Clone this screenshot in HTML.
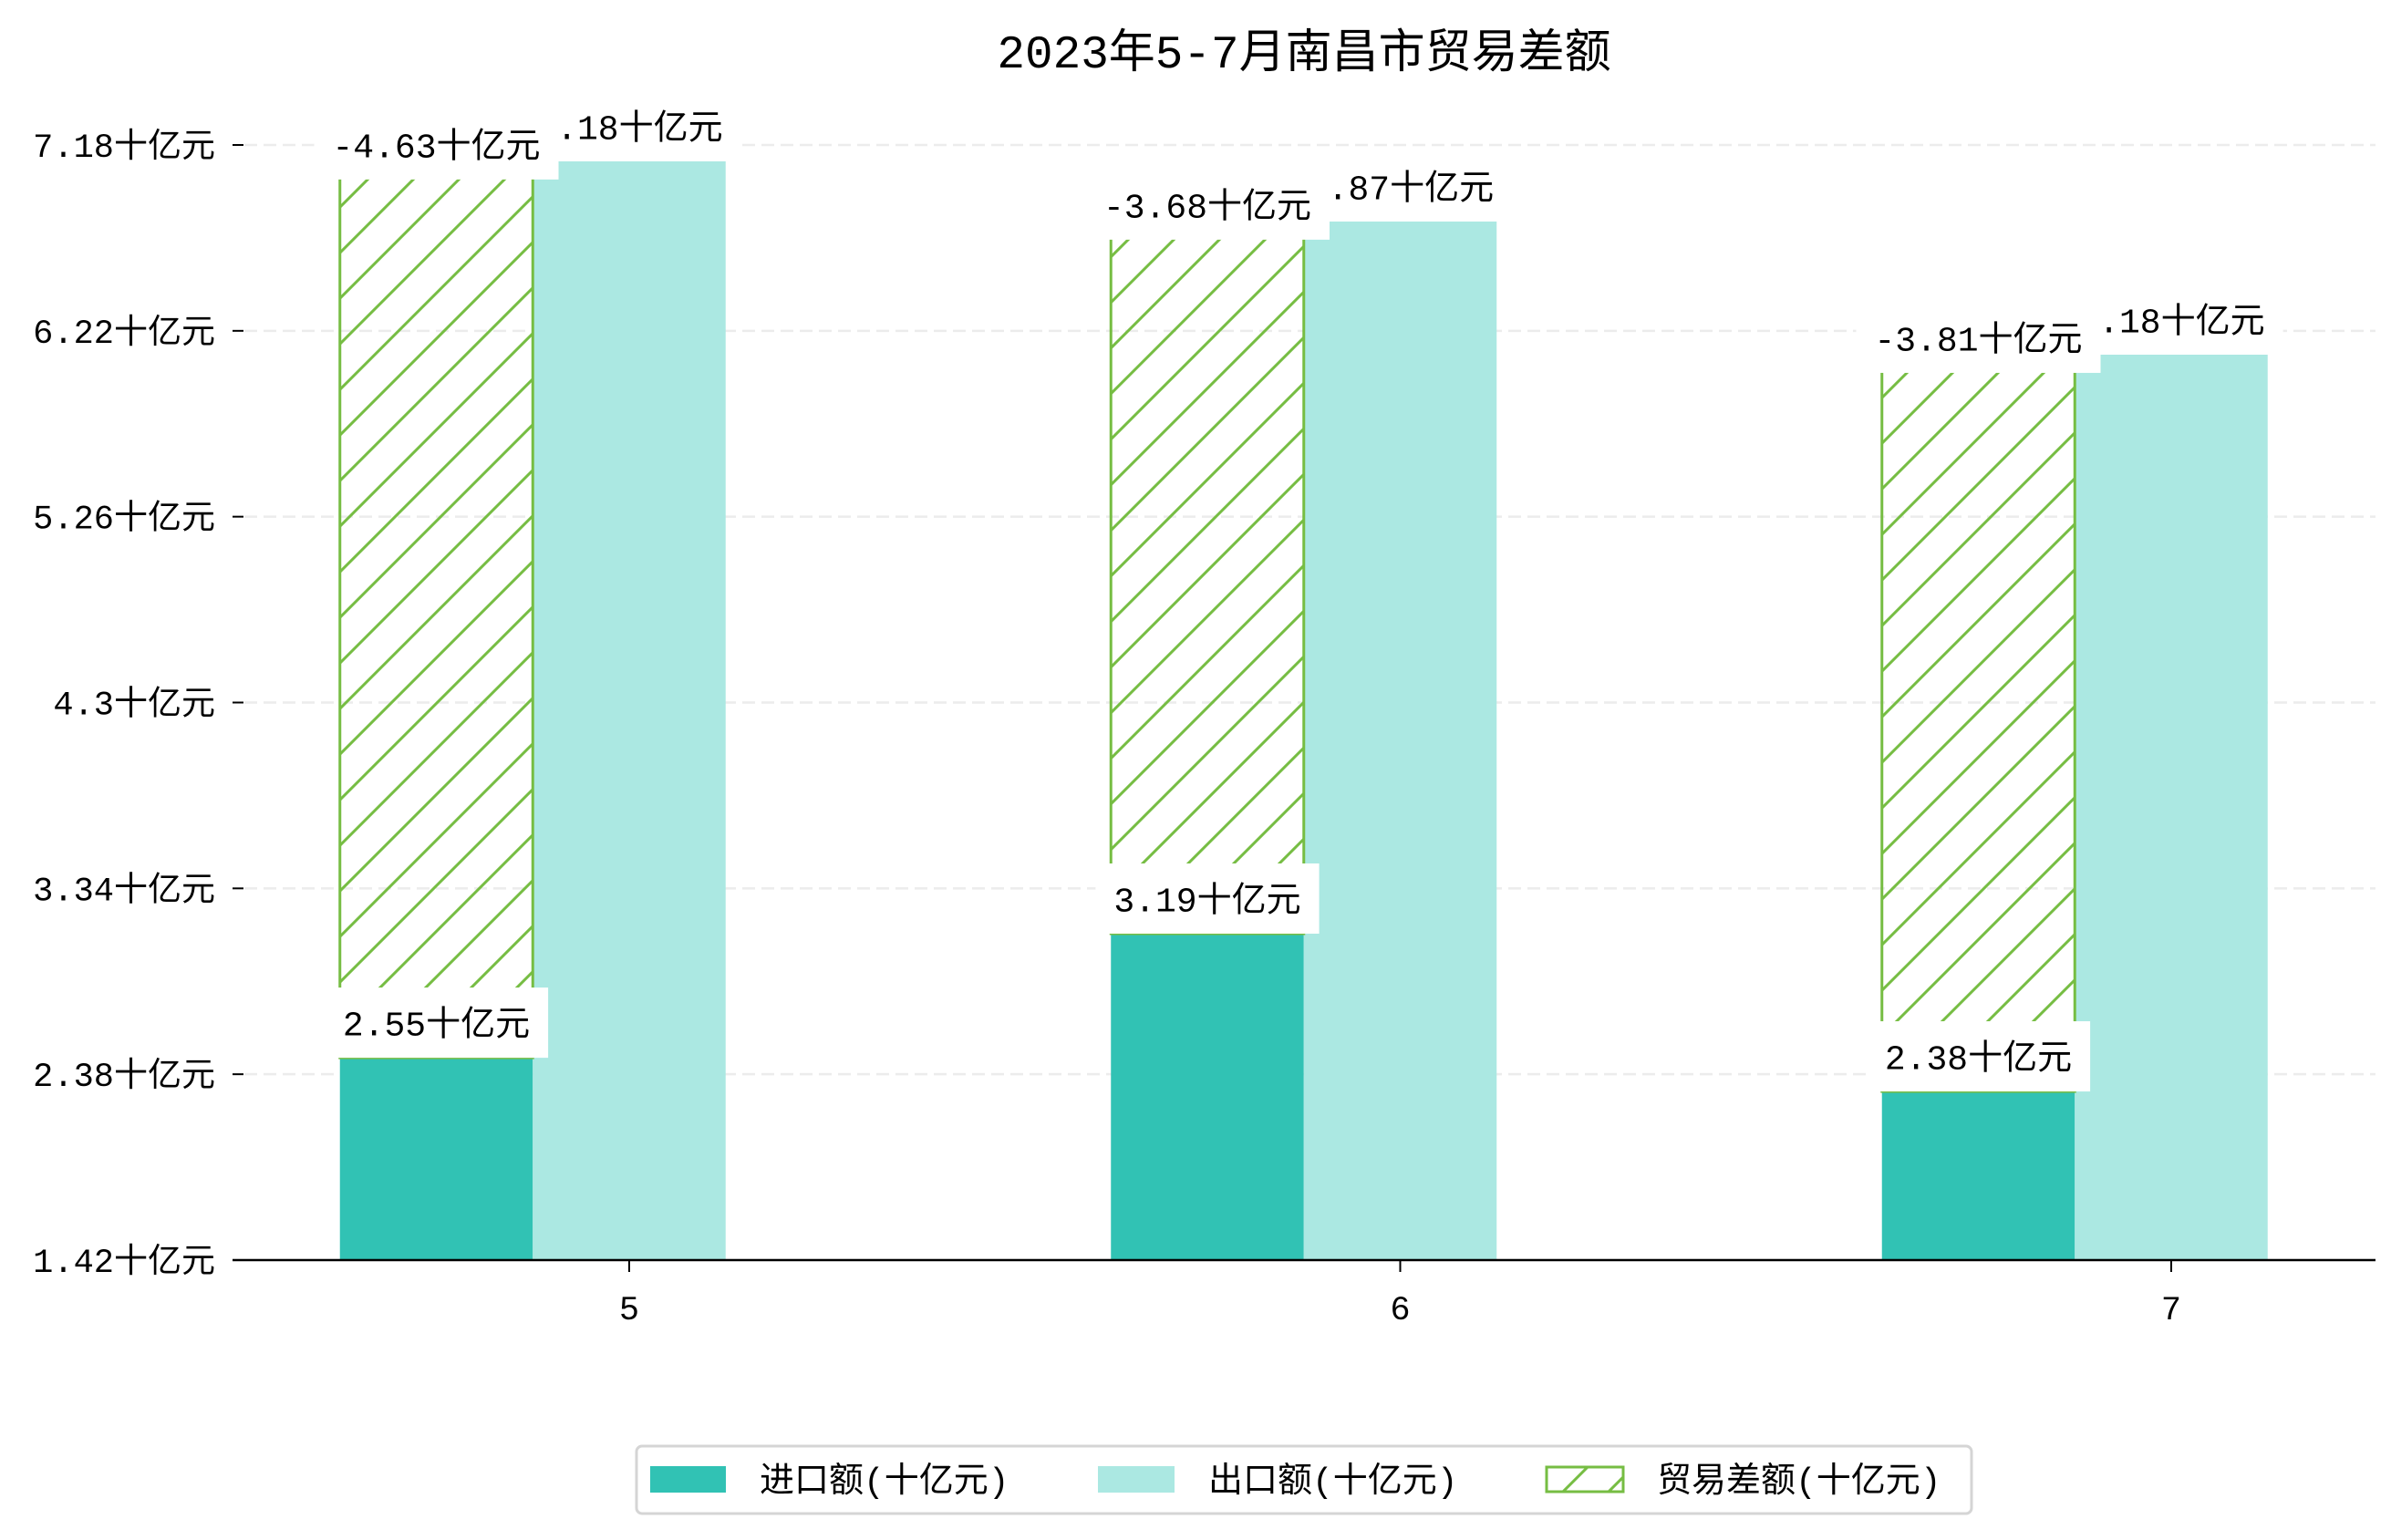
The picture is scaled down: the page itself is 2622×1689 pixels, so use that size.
<!DOCTYPE html>
<html><head><meta charset="utf-8">
<style>
html,body{margin:0;padding:0;background:#fff;}
svg{display:block;}
text{font-family:"Liberation Mono","Noto Sans CJK SC",monospace;fill:#000;}
</style></head>
<body>
<svg id="chart" width="2622" height="1689" viewBox="0 0 2622 1689" xmlns="http://www.w3.org/2000/svg">
<defs>
<pattern id="hatch" patternUnits="userSpaceOnUse" width="50" height="50">
<path d="M-5,55 L55,-5 M-5,5 L5,-5 M45,55 L55,45" stroke="#76bd43" stroke-width="3" fill="none"/>
</pattern>
</defs>
<text x="1430" y="74" font-size="51" text-anchor="middle">2023年5-7月南昌市贸易差额</text>
<g id="grid"></g>
<g id="bars"></g>
<g id="labels"></g>
<g id="axes"></g>
<g id="legend">
<rect x="698" y="1586" width="1464" height="74" rx="6" fill="#fff" stroke="#d5d5d5" stroke-width="3"/>
<rect x="713" y="1608" width="83" height="29" fill="#31c2b4"/>
<text x="833" y="1636" font-size="38">进口额(十亿元)</text>
<rect x="1204" y="1608" width="84" height="29" fill="#abe8e2"/>
<text x="1325" y="1636" font-size="38">出口额(十亿元)</text>
<rect x="1696" y="1609" width="84" height="27" fill="url(#hatch)" stroke="#76bd43" stroke-width="3"/>
<text x="1817" y="1636" font-size="38">贸易差额(十亿元)</text>
</g>
</svg>
<script>
const categories = ["5", "6", "7"];
const importValues = [2.465, 3.106, 2.291];
const exportValues = [7.096, 6.785, 6.097];
const importLabels = ["2.55十亿元", "3.19十亿元", "2.38十亿元"];
const exportLabels = ["7.18十亿元", "6.87十亿元", "6.18十亿元"];
const balanceLabels = ["-4.63十亿元", "-3.68十亿元", "-3.81十亿元"];
const yTicks = [1.42, 2.38, 3.34, 4.3, 5.26, 6.22, 7.18];
const yTickLabels = ["1.42十亿元", "2.38十亿元", "3.34十亿元", "4.3十亿元", "5.26十亿元", "6.22十亿元", "7.18十亿元"];

const NS = "http://www.w3.org/2000/svg";
const Y0 = 1382, Y1 = 159, VMIN = 1.42, VMAX = 7.18;
function yScale(v){ return Y0 - (v - VMIN) * (Y0 - Y1) / (VMAX - VMIN); }
const STEP = 845.5, BW = 211.5;
function xCenter(i){ return 690 + i * STEP; }
function mk(tag, attrs, parent){
  const e = document.createElementNS(NS, tag);
  for (const k in attrs) e.setAttribute(k, attrs[k]);
  parent.appendChild(e);
  return e;
}
const grid = document.getElementById('grid');
const bars = document.getElementById('bars');
const labels = document.getElementById('labels');
const axes = document.getElementById('axes');

yTicks.forEach((t, i) => {
  const y = yScale(t);
  if (i > 0) {
    const g = mk('line', {x1: 268, x2: 2605, y1: y, y2: y, stroke: '#ececec', 'stroke-width': 2.5, 'stroke-dasharray': '14 7'}, grid);
    
    
  }
  const tk = mk('line', {x1: 255, x2: 267, y1: y, y2: y, stroke: '#000', 'stroke-width': 2}, axes);
  
  
  const tl = mk('text', {x: 236, y: y + 13, 'font-size': 37, 'text-anchor': 'end'}, axes);
  tl.textContent = yTickLabels[i];
  
  
});
const axisLine = mk('line', {x1: 255, x2: 2605, y1: Y0, y2: Y0, stroke: '#000', 'stroke-width': 2.5}, axes);



function addLabel(text, cx, cy, name){
  const g = mk('g', {}, labels);
  
  
  const r = mk('rect', {fill: '#fff'}, g);
  const t = mk('text', {x: cx, y: cy + 14, 'font-size': 38, 'text-anchor': 'middle'}, g);
  t.textContent = text;
  const w = t.getComputedTextLength();
  r.setAttribute('x', cx - w / 2 - 20);
  r.setAttribute('width', w + 40);
  r.setAttribute('y', cy - 38.5);
  r.setAttribute('height', 77);
}

categories.forEach((c, i) => {
  const xc = xCenter(i);
  const impX = xc - 1.5 * BW, expX = xc - 0.5 * BW;
  const yi = yScale(importValues[i]), ye = yScale(exportValues[i]);
  const bi = mk('rect', {x: impX, y: yi, width: BW, height: Y0 - yi, fill: '#31c2b4'}, bars);
  
  
  const be = mk('rect', {x: expX, y: ye, width: BW, height: Y0 - ye, fill: '#abe8e2'}, bars);
  
  
  const bh = mk('rect', {x: impX, y: ye, width: BW, height: yi - ye, fill: 'url(#hatch)', stroke: '#76bd43', 'stroke-width': 3}, bars);
  
  
  const xt = mk('line', {x1: xc, x2: xc, y1: Y0, y2: Y0 + 13, stroke: '#000', 'stroke-width': 2}, axes);
  
  
  const xl = mk('text', {x: xc, y: 1447, 'font-size': 37, 'text-anchor': 'middle'}, axes);
  xl.textContent = c;
  
  
});
categories.forEach((c, i) => {
  const xc = xCenter(i);
  const impC = xc - BW, expC = xc;
  const yi = yScale(importValues[i]), ye = yScale(exportValues[i]);
  addLabel(importLabels[i], impC, yi - 38.5, 'import-value-label');
  addLabel(exportLabels[i], expC, ye - 38.5, 'export-value-label');
  addLabel(balanceLabels[i], impC, ye - 18.5, 'balance-value-label');
});
</script>
</body></html>
